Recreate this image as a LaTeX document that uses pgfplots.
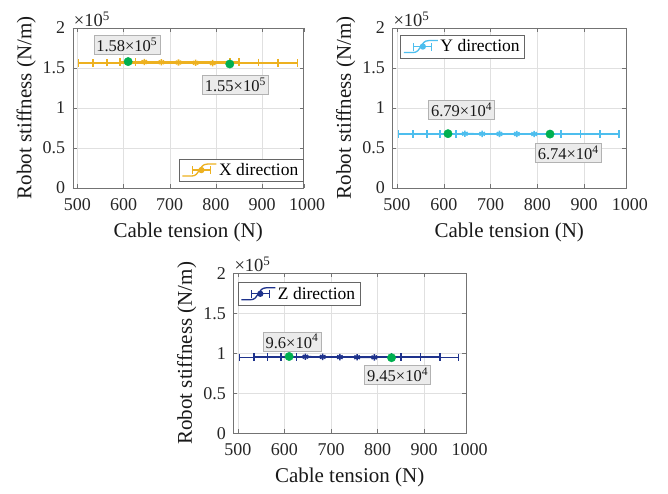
\documentclass[border=0pt]{standalone}
\usepackage{fontspec}
\setmainfont{Liberation Serif}
\newfontfamily\tnr{Liberation Serif}
\usepackage{pgfplots}
\pgfplotsset{compat=1.18}
\definecolor{cX}{RGB}{237,177,32}
\definecolor{cY}{RGB}{77,190,238}
\definecolor{cZ}{RGB}{30,50,140}
\definecolor{cG}{RGB}{0,176,80}
\tikzset{
  ann/.style={fill=black!8, draw=black!30, font=\tnr\fontsize{16.5}{16.5}\selectfont, inner sep=2.5pt, text=black!90},
  sclab/.style={anchor=south west, inner sep=1pt, font=\tnr\fontsize{18.5}{18.5}\selectfont, text=black!85},
}
\pgfplotsset{
  myaxis/.style={
    scale only axis, height=160pt,
    xmin=490, xmax=990, ymin=0, ymax=200000,
    xtick={500,600,700,800,900,990}, xticklabels={500,600,700,800,900,\hspace*{7pt}1000},
    ytick={0,50000,100000,150000,200000}, yticklabels={0,0.5,1,1.5,2},
    scaled y ticks=false,
    grid=major, major grid style={black!12},
    tick align=inside, major tick length=4pt,
    axis line style={black!55}, tick style={black!55},
    tick label style={font=\tnr\fontsize{18}{18}\selectfont, text=black!85},
    xticklabel style={yshift=-7pt},
    yticklabel style={xshift=-4pt},
    /pgf/number format/assume math mode=true,
    label style={font=\tnr\fontsize{21}{21}\selectfont, text=black!90},
    xlabel style={yshift=-5pt},
    xlabel={Cable tension (N)}, ylabel={Robot stiffness (N/m)},
    legend style={draw=black!60, fill=white, font=\tnr\fontsize{17.5}{17.5}\selectfont, inner sep=2.5pt, row sep=0pt},
    legend cell align=left,
    clip=false,
    legend image code/.code={
      \draw[##1,mark=none,line width=1.3pt] (0pt,-6pt) -- (9pt,-6pt) .. controls (18pt,-6pt) and (16pt,6pt) .. (25pt,6pt) -- (34pt,6pt);
      \draw[##1,mark=none,line width=1.3pt] (10pt,0pt) -- (28pt,0pt);
      \draw[##1,mark=none,line width=1.3pt] (10pt,-4pt) -- (10pt,4pt);
      \draw[##1,mark=none,line width=1.3pt] (28pt,-4pt) -- (28pt,4pt);
      \fill[##1] (19pt,0pt) circle (2.3pt);
    },
  },
  eb/.style={line width=1.6pt, color=#1, mark=asterisk, mark size=3.2pt,
    mark options={line width=1.6pt},
    error bars/.cd, x dir=both, x explicit,
    error bar style={line width=1.6pt, color=#1},
    error mark=|, error mark options={line width=1.5pt, mark size=3.8pt, color=#1}},
  gdot/.style={only marks, mark=*, mark size=4.2pt, color=cG, forget plot},
}
\begin{document}
\begin{tikzpicture}
\useasboundingbox (0pt,0pt) rectangle (668pt,493pt);
% ---------- X direction
\begin{axis}[myaxis, width=231pt, at={(72.7pt,305pt)}, anchor=south west,
  legend style={at={(rel axis cs:0.997,0.04)}, anchor=south east}]
\addplot[eb=cX] coordinates {
 (645,157500) += (185,0) -= (19,0)
 (682,157200) += (168,0) -= (90,0)
 (719,156900) += (173,0) -= (155,0)
 (756,156500) += (178,0) -= (222,0)
 (793,156100) += (184,0) -= (290,0)
};
\addlegendentry{X direction}
\addplot[gdot] coordinates {(610,158000) (830,155000)};
\node[ann] at (axis cs:607,179000) {1.58×10\textsuperscript{5}};
\node[ann] at (axis cs:842,129000) {1.55×10\textsuperscript{5}};
\node[sclab] at (rel axis cs:0,1) {×10\textsuperscript{5}};
\end{axis}
% ---------- Y direction
\begin{axis}[myaxis, width=234pt, at={(392.3pt,305pt)}, anchor=south west,
  legend style={at={(rel axis cs:0.035,0.956)}, anchor=north west}]
\addplot[eb=cY] coordinates {
 (645,67800) += (185,0) -= (19,0)
 (682,67700) += (168,0) -= (90,0)
 (719,67600) += (173,0) -= (155,0)
 (756,67550) += (178,0) -= (222,0)
 (793,67500) += (181,0) -= (290,0)
};
\addlegendentry{Y direction}
\addplot[gdot] coordinates {(609,67900) (827,67400)};
\node[ann] at (axis cs:638,97500) {6.79×10\textsuperscript{4}};
\node[ann] at (axis cs:866,44000) {6.74×10\textsuperscript{4}};
\node[sclab] at (rel axis cs:0,1) {×10\textsuperscript{5}};
\end{axis}
% ---------- Z direction
\begin{axis}[myaxis, width=232.7pt, at={(233.3pt,59.7pt)}, anchor=south west,
  legend style={at={(rel axis cs:0.02,0.944)}, anchor=north west}]
\addplot[eb=cZ] coordinates {
 (645,95700) += (185,0) -= (19,0)
 (682,95500) += (168,0) -= (90,0)
 (719,95300) += (173,0) -= (155,0)
 (756,95100) += (178,0) -= (222,0)
 (793,94900) += (181,0) -= (290,0)
};
\addlegendentry{Z direction}
\addplot[gdot] coordinates {(610,96000) (830,94500)};
\node[ann] at (axis cs:616,115000) {9.6×10\textsuperscript{4}};
\node[ann] at (axis cs:843,73000) {9.45×10\textsuperscript{4}};
\node[sclab] at (rel axis cs:0,1) {×10\textsuperscript{5}};
\end{axis}
\end{tikzpicture}
\end{document}
